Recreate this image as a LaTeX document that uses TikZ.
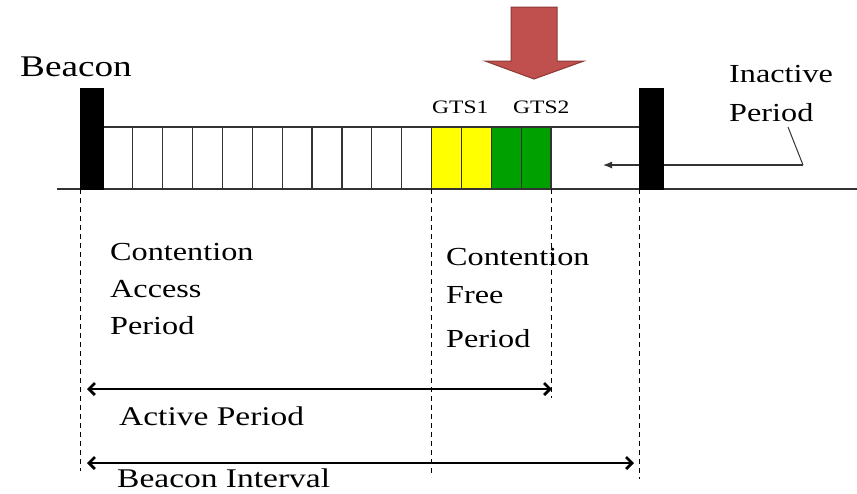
\documentclass[tikz,border=0pt]{standalone}
\usepackage{fontspec}
\setmainfont{Liberation Serif}[FakeStretch=1.24]
\usetikzlibrary{arrows.meta}

\definecolor{gtsyellow}{RGB}{255,255,0}
\definecolor{gtsgreen}{RGB}{0,160,0}
\definecolor{arrowred}{RGB}{192,80,77}
\definecolor{arrowedge}{RGB}{140,56,54}

\tikzset{
  lbl/.style={anchor=base west, inner sep=0pt, font=\fontsize{26}{30}\selectfont},
  biglbl/.style={anchor=base west, inner sep=0pt, font=\fontsize{27}{31}\selectfont},
  gtslbl/.style={anchor=base west, inner sep=0pt, font=\fontsize{19}{22}\selectfont},
  slotline/.style={draw=black!80, line width=1.2pt},
  beaconbar/.style={fill=black, draw=black},
  guide/.style={draw=black, line width=0.8pt, dash pattern=on 5pt off 4pt},
  span/.style={draw=black, line width=2.8pt, {Straight Barb[length=6pt,width=12pt]}-{Straight Barb[length=6pt,width=12pt]}},
}

\begin{document}
\begin{tikzpicture}[x=1pt,y=-1pt]
\useasboundingbox (0,0) rectangle (857,493);

% guaranteed time slots (two yellow, two green)
\def\slotw{29.87}
\path[fill=gtsyellow] (103+11*\slotw,127) rectangle (103+13*\slotw,189);
\path[fill=gtsgreen]  (103+13*\slotw,127) rectangle (103+15*\slotw,189);

% slot boundaries
\foreach \i in {1,...,15}{
  \draw[slotline] (103+\slotw*\i,127) -- (103+\slotw*\i,189);
}

% frame outline and time axis
\coordinate (tl) at (103,127);
\coordinate (tr) at (639,127);
\coordinate (axl) at (57,189);
\coordinate (axr) at (857,189);
\draw[slotline] (tl) -- (tr);
\draw[slotline] (axl) -- (axr);

% inactive period leader and pointer
\coordinate (ipend) at (803,165);
\coordinate (iptop) at (788,127);
\coordinate (iptip) at (603,165);
\draw[draw=black!80, line width=1.2pt, -{Latex[length=9pt,width=7pt]}] (ipend) -- (iptip);
\draw[draw=black!80, line width=1pt] (ipend) -- (iptop);

% beacons
\node[beaconbar, minimum width=23pt, minimum height=101pt, inner sep=0pt, anchor=north west] (lb) at (80,88) {};
\node[beaconbar, minimum width=24pt, minimum height=101pt, inner sep=0pt, anchor=north west] (rb) at (639,88) {};

% dashed guides
\coordinate (g1a) at (80,189);  \coordinate (g1b) at (80,471);
\coordinate (g2a) at (431,189); \coordinate (g2b) at (431,477);
\coordinate (g3a) at (551,189); \coordinate (g3b) at (551,398);
\coordinate (g4a) at (639,189); \coordinate (g4b) at (639,479);
\draw[guide] (g1a) -- (g1b);
\draw[guide] (g2a) -- (g2b);
\draw[guide] (g3a) -- (g3b);
\draw[guide] (g4a) -- (g4b);

% period spans
\coordinate (apl) at (87,389);  \coordinate (apr) at (552,389);
\coordinate (bil) at (87,463);  \coordinate (bir) at (634,463);
\draw[span] (apl) -- (apr);
\draw[span] (bil) -- (bir);

% big pointer arrow
\filldraw[fill=arrowred, draw=arrowedge, line width=1pt]
  (511,7) -- (557,7) -- (557,61) -- (584,61) -- (534,79) -- (485,61) -- (511,61) -- cycle;

% labels
\node[lbl, font=\fontsize{30}{34}\selectfont] (beacon) at (20,76) {Beacon};
\node[gtslbl] (gts1) at (432,113) {GTS1};
\node[gtslbl] (gts2) at (513,113) {GTS2};
\node[lbl] (inact1) at (729,82) {Inactive};
\node[lbl] (inact2) at (729,121) {Period};
\node[lbl] (cap1) at (110,260) {Contention};
\node[lbl] (cap2) at (110,297) {Access};
\node[lbl] (cap3) at (110,334) {Period};
\node[lbl] (cfp1) at (446,265) {Contention};
\node[lbl] (cfp2) at (446,303) {Free};
\node[lbl] (cfp3) at (446,347) {Period};
\node[biglbl] (active) at (119,425) {Active Period};
\node[biglbl] (interval) at (117,487) {Beacon Interval};
\end{tikzpicture}
\end{document}
